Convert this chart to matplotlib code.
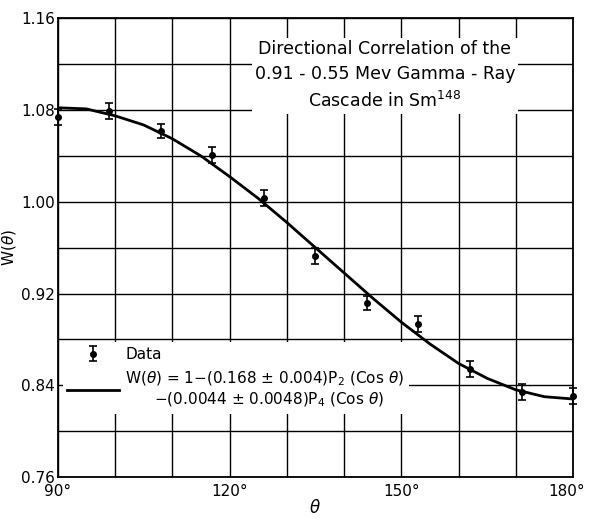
import matplotlib.pyplot as plt
import matplotlib.transforms as mtransforms
import numpy as np

plt.rcParams['font.family'] = ['DejaVu Sans']
plt.rcParams['mathtext.fontset'] = 'dejavusans'

thetaData = [90, 99, 108, 117, 126, 135, 144, 153, 162, 171, 180]
wData = [1.074, 1.079, 1.062, 1.041, 1.003, 0.953, 0.912, 0.893, 0.854, 0.834, 0.831]
wErr = [0.007, 0.007, 0.006, 0.007, 0.007, 0.007, 0.006, 0.007, 0.007, 0.007, 0.007]

# fitted curve, read every 5 degrees
thetaFit = [90, 95, 100, 105, 110, 115, 120, 125, 130, 135,
            140, 145, 150, 155, 160, 165, 170, 175, 180]
wFit = [1.082, 1.081, 1.075, 1.067, 1.055, 1.040, 1.022, 1.003, 0.982, 0.960,
        0.938, 0.916, 0.895, 0.876, 0.859, 0.846, 0.836, 0.830, 0.828]

xTicks = [90, 120, 150, 180]
xTickLabels = ["90°", "120°", "150°", "180°"]
yTicks = [0.76, 0.84, 0.92, 1.00, 1.08, 1.16]
yTickLabels = ["0.76", "0.84", "0.92", "1.00", "1.08", "1.16"]

fig = plt.figure(figsize=(5.89, 5.23), dpi=100)
axes = fig.add_axes([0.098, 0.088, 0.875, 0.877])

axes.set_xlim(90, 180)
axes.set_ylim(0.76, 1.16)
axes.set_xticks(np.arange(90, 181, 10), minor=True)
axes.set_yticks(np.arange(0.76, 1.161, 0.04), minor=True)
axes.set_xticks(xTicks, labels=xTickLabels)
axes.set_yticks(yTicks, labels=yTickLabels)
axes.grid(which='both', color='black', linewidth=1.0)
axes.tick_params(which='both', length=0, labelsize=11)
axes.tick_params(axis='x', pad=5)
axes.tick_params(axis='y', pad=2)
for spine in axes.spines.values() :
    spine.set_linewidth(1.3)

# nudge the last x label so it stays inside the figure
lastLabel = axes.get_xticklabels()[-1]
lastLabel.set_transform(lastLabel.get_transform()
                        + mtransforms.ScaledTranslation(-5 / 72, 0, fig.dpi_scale_trans))

fitLine, = axes.plot(thetaFit, wFit, color='black', linewidth=2.0, zorder=3)
dataPlot = axes.errorbar(thetaData, wData, yerr=wErr, fmt='o', color='black',
                         markersize=4, capsize=3, elinewidth=1.2, capthick=1.2, zorder=4)
for artist in dataPlot.get_children() :
    artist.set_clip_on(False)

axes.set_xlabel(r"$\theta$", fontsize=12, labelpad=0)
axes.set_ylabel(r"W$(\theta)$", fontsize=11, labelpad=2)

axes.text(0.635, 0.952,
          "Directional Correlation of the\n0.91 - 0.55 Mev Gamma - Ray\nCascade in Sm$^{148}$",
          transform=axes.transAxes, ha='center', va='top', fontsize=12.5,
          linespacing=1.5, zorder=5,
          bbox=dict(facecolor='white', edgecolor='none', pad=2))

fitLabel = (r"W$(\theta)$ = 1$-$(0.168 $\pm$ 0.004)P$_2$ (Cos $\theta$)" + "\n"
            + r"      $-$(0.0044 $\pm$ 0.0048)P$_4$ (Cos $\theta$)")
legend = axes.legend([dataPlot, fitLine], ["Data", fitLabel],
                     loc='upper left', bbox_to_anchor=(-0.005, 0.31),
                     fontsize=11, frameon=True, framealpha=1.0,
                     facecolor='white', edgecolor='none', fancybox=False,
                     handlelength=3.4, handletextpad=0.4, borderpad=0.3,
                     labelspacing=0.5)
legend.set_zorder(6)

plt.savefig("out.png", dpi=100)
